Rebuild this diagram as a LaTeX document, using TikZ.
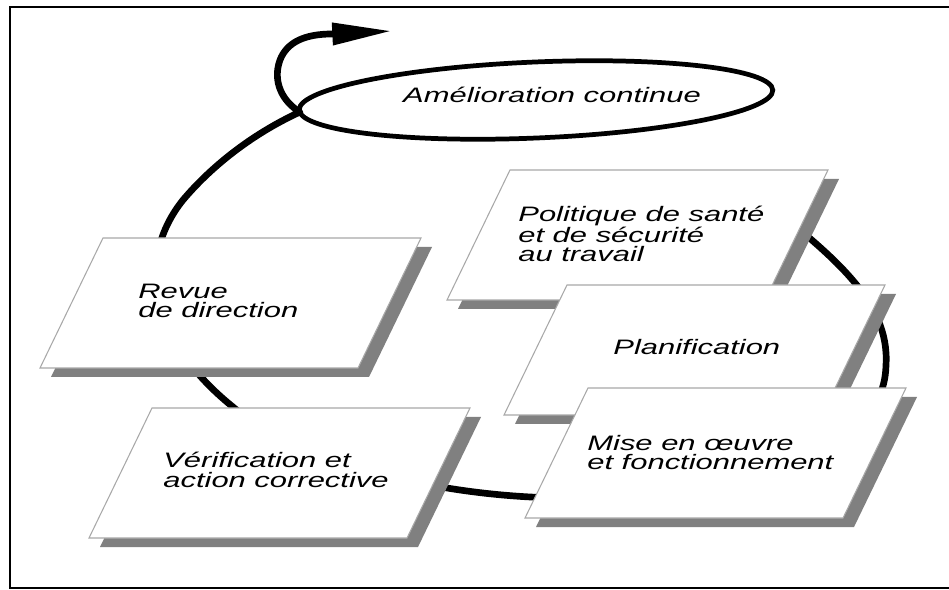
\documentclass[tikz,border=0pt]{standalone}
\usepackage{fontspec}
\newfontfamily\boxfont[FakeStretch=1.48]{Liberation Sans}
\usetikzlibrary{arrows.meta}
\definecolor{shadowgray}{HTML}{808080}
\definecolor{edgegray}{HTML}{A8A8A8}
\tikzset{
  lbl/.style={font=\boxfont\itshape\fontsize{11.9}{11.05}\selectfont, inner sep=0pt, align=left, anchor=base west},
  amel/.style={font=\boxfont\itshape\fontsize{11.9}{11.05}\selectfont, inner sep=0pt, anchor=base},
  loopline/.style={line width=3.8pt, line cap=round, line join=round},
  ringline/.style={line width=2.7pt},
  framestyle/.style={line width=1.2pt},
}
\newcommand\slantbox[2]{%
  \fill[shadowgray] ({#1+11},{#2+9}) -- ({#1+329},{#2+9}) -- ({#1+266},{#2+139}) -- ({#1-52},{#2+139}) -- cycle;
  \filldraw[fill=white, draw=edgegray, line width=0.6pt] (#1,#2) -- ({#1+318},#2) -- ({#1+255},{#2+130}) -- ({#1-63},{#2+130}) -- cycle;
}
\begin{document}
\begin{tikzpicture}[x=0.02cm, y=-0.02cm]
\useasboundingbox (0,0) rectangle (949,590);
\fill[white] (0,0) rectangle (949,590);
\draw[framestyle] (949,7) -- (10,7) -- (10,588) -- (949,588);

% big loop with arrow
\draw[loopline, -{Triangle[length=34pt, width=12pt]}]
  (770,205) .. controls (830,255) and (890,300) .. (886,365)
  .. controls (884,470) and (700,500) .. (560,498)
  .. controls (420,496) and (290,455) .. (233,407)
  .. controls (150,340) and (135,260) .. (183,200)
  .. controls (210,168) and (250,135) .. (300,112)
  .. controls (283,102) and (272,82) .. (280,60)
  .. controls (287,42) and (305,34) .. (332,34)
  -- (392,31);

% ellipse
\draw[ringline, rotate around={2.4:(536,100)}] (536,100) ellipse [x radius=237, y radius=38];
\node[amel] (amelioration) at (552,103) {Amélioration continue};

% boxes
\slantbox{103}{238}
\node[lbl] (revue) at (138,318) {Revue\\de direction};
\slantbox{152}{408}
\node[lbl] (verif) at (163,487) {Vérification et\\action corrective};
\slantbox{510}{170}
\node[lbl] (politique) at (518,262) {Politique de santé\\et de sécurité\\au travail};
\slantbox{567}{285}
\node[lbl] (planif) at (613,355) {Planification};
\slantbox{588}{388}
\node[lbl] (mise) at (587,470) {Mise en œuvre\\et fonctionnement};
\end{tikzpicture}
\end{document}
